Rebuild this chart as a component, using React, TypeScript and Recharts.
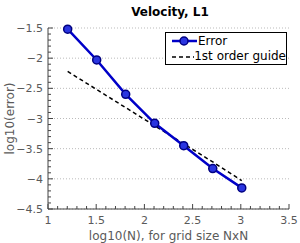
import React from 'react';
import { ComposedChart, Line, XAxis, YAxis, ReferenceLine } from 'recharts';

const logN = [1.204, 1.505, 1.806, 2.107, 2.408, 2.709, 3.01];
const errorValues = [-1.52, -2.03, -2.6, -3.08, -3.45, -3.83, -4.15];
const guideValues = [-2.22, -2.52, -2.82, -3.12, -3.42, -3.72, -4.03];

const yMajor = [-4.5, -4, -3.5, -3, -2.5, -2, -1.5];
const xMinor = Array.from({ length: 26 }, (_, i) => Math.round((1 + i * 0.1) * 10) / 10);
const yMinor = Array.from({ length: 31 }, (_, i) => Math.round((-4.5 + i * 0.1) * 10) / 10);

const data = logN.map((x, i) => ({ x, error: errorValues[i], guide: guideValues[i] }));

const FONT = 'DejaVu Sans';
const GREY = '#5a5a5a';

const isMajor = (v: number) => Math.abs(v * 2 - Math.round(v * 2)) < 1e-6;
const fmt = (v: number) => (v < 0 ? '\u2212' + String(-v) : String(v));

const YTick = (props: any) => {
  const { x, y, payload } = props;
  const major = isMajor(payload.value);
  return (
    <g>
      <line x1={x} x2={x + (major ? 5 : 3)} y1={y} y2={y} stroke="#444" strokeWidth={1} />
      {major && (
        <text x={x - 5} y={y + 4} textAnchor="end" fontFamily={FONT} fontSize={11} fill={GREY}>
          {fmt(payload.value)}
        </text>
      )}
    </g>
  );
};

const XTick = (props: any) => {
  const { x, y, payload } = props;
  const major = isMajor(payload.value);
  return (
    <g>
      <line x1={x} x2={x} y1={y} y2={y - (major ? 5 : 3)} stroke="#444" strokeWidth={1} />
      {major && (
        <text x={x} y={y + 15} textAnchor="middle" fontFamily={FONT} fontSize={11} fill={GREY}>
          {fmt(payload.value)}
        </text>
      )}
    </g>
  );
};

const LegendBox = () => (
  <div
    style={{
      position: 'absolute',
      left: 165,
      top: 32,
      width: 122,
      height: 33,
      border: '1px solid #000',
      background: '#fff',
      fontFamily: FONT,
      fontSize: 12,
      color: '#000',
      padding: '0px 0px 0px 5px',
      lineHeight: '15px',
      boxSizing: 'border-box',
      whiteSpace: 'nowrap',
    }}
  >
    <div style={{ display: 'flex', alignItems: 'center', height: 16 }}>
      <svg width={27} height={12}>
        <line x1={1} x2={26} y1={6} y2={6} stroke="#0000c8" strokeWidth={2.5} />
        <circle cx={13} cy={6} r={4} fill="#2a35e0" stroke="#000080" strokeWidth={1.5} />
      </svg>
      <span>Error</span>
    </div>
    <div style={{ display: 'flex', alignItems: 'center', height: 15 }}>
      <svg width={27} height={12}>
        <line x1={1} x2={26} y1={6} y2={6} stroke="#000" strokeWidth={1.5} strokeDasharray="4 3" />
      </svg>
      <span>1st order guide</span>
    </div>
  </div>
);

export default function App() {
  return (
    <div style={{ position: 'absolute', left: 0, top: 0, width: 300, height: 243, background: '#fff' }}>
      <div
        style={{
          position: 'absolute',
          left: 0,
          width: 300,
          top: 5,
          textAlign: 'center',
          paddingLeft: 40,
          boxSizing: 'border-box',
          fontFamily: FONT,
          fontWeight: 'bold',
          fontSize: 12,
        }}
      >
        Velocity, L1
      </div>
      <ComposedChart width={300} height={243} data={data} margin={{ top: 28, right: 11, bottom: 0, left: 0 }}>
        {yMajor.map((v) => (
          <ReferenceLine key={v} y={v} stroke="#bbb" strokeDasharray="1 2" />
        ))}
        <XAxis
          dataKey="x"
          type="number"
          domain={[1, 3.5]}
          ticks={xMinor}
          interval={0}
          tickSize={0}
          tickMargin={0}
          tick={<XTick />}
          stroke="#444"
          height={34}
          label={{ value: 'log10(N), for grid size NxN', position: 'insideBottom', offset: 3, fontFamily: FONT, fontSize: 12, fill: GREY }}
        />
        <YAxis
          type="number"
          domain={[-4.5, -1.5]}
          ticks={yMinor}
          interval={0}
          tickSize={0}
          tickMargin={0}
          tick={<YTick />}
          stroke="#444"
          width={48}
          label={{ value: 'log10(error)', angle: -90, position: 'insideLeft', offset: 10, fontFamily: FONT, fontSize: 12, fill: GREY, style: { textAnchor: 'middle' } }}
        />
        <Line
          dataKey="guide"
          stroke="#000"
          strokeWidth={1.5}
          strokeDasharray="4 3"
          dot={false}
          isAnimationActive={false}
        />
        <Line
          dataKey="error"
          stroke="#0000c8"
          strokeWidth={2.5}
          dot={{ r: 4, fill: '#2a35e0', stroke: '#000080', strokeWidth: 1.5 }}
          isAnimationActive={false}
        />
      </ComposedChart>
      <LegendBox />
    </div>
  );
}
